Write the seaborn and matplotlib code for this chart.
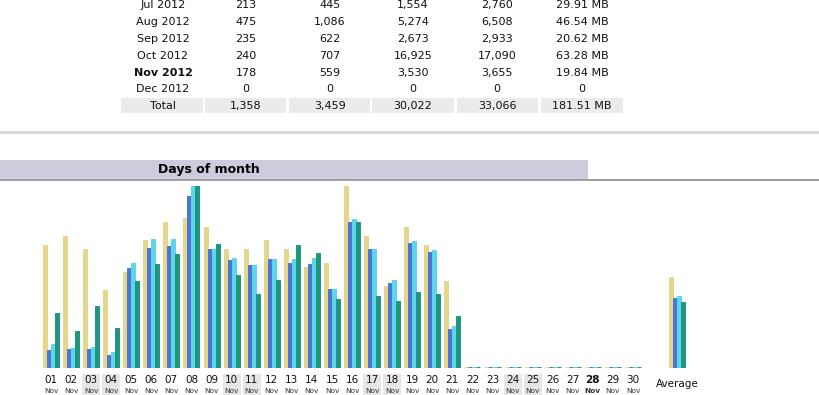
import datetime
import numpy as np
import pandas as pd
import matplotlib
matplotlib.use("Agg")
import matplotlib.pyplot as plt
from matplotlib.patches import Rectangle
from matplotlib.lines import Line2D
import seaborn as sns

# monthly history (table at the top of the page)
months = ["Jul 2012", "Aug 2012", "Sep 2012", "Oct 2012", "Nov 2012", "Dec 2012"]
unique_visitors = ["213", "475", "235", "240", "178", "0"]
month_visits = ["445", "1,086", "622", "707", "559", "0"]
month_pages = ["1,554", "5,274", "2,673", "16,925", "3,530", "0"]
month_hits = ["2,760", "6,508", "2,933", "17,090", "3,655", "0"]
month_bw = ["29.91 MB", "46.54 MB", "20.62 MB", "63.28 MB", "19.84 MB", "0"]
totals = ["Total", "1,358", "3,459", "30,022", "33,066", "181.51 MB"]

# days of month, November 2012 (today = 28th)
year, month = 2012, 11
today = 28
days = list(range(1, 31))
visits = [27, 29, 26, 17, 21, 28, 32, 33, 31, 26, 26, 28, 26, 22, 23, 40, 29, 18, 31, 27, 19] + [0] * 9
pages = [31, 33, 33, 22, 182, 219, 223, 315, 217, 197, 188, 199, 191, 189, 143, 267, 217, 154, 228, 212, 70] + [0] * 9
hits = [42, 35, 37, 27, 191, 236, 235, 333, 217, 201, 188, 199, 199, 201, 143, 273, 217, 160, 231, 215, 75] + [0] * 9
bandwidth_mb = [0.59, 0.39, 0.66, 0.42, 0.93, 1.11, 1.22, 1.96, 1.33, 1.00, 0.79, 0.94, 1.32, 1.23,
                0.74, 1.57, 0.77, 0.72, 0.81, 0.79, 0.55] + [0] * 9

series = ["Visits", "Pages", "Hits", "Bandwidth"]
colors = ["#E4D68A", "#4A76D6", "#5ED6EA", "#1F957F"]

# average over the days elapsed so far
avg = [sum(visits) / today, sum(pages) / today, sum(hits) / today, sum(bandwidth_mb) / today]
avg_pos = days[-1] + 2.2

# awstats scales visits and bandwidth on their own, pages and hits together
vmax = max(visits)
hmax = max(hits)
bmax = max(bandwidth_mb)

rows = []
for d, v, p, h, b in zip(days + [avg_pos], visits + [avg[0]], pages + [avg[1]],
                         hits + [avg[2]], bandwidth_mb + [avg[3]]):
    rows.append({"pos": d, "series": "Visits", "height": v / vmax})
    rows.append({"pos": d, "series": "Pages", "height": p / hmax})
    rows.append({"pos": d, "series": "Hits", "height": h / hmax})
    rows.append({"pos": d, "series": "Bandwidth", "height": b / bmax})
df = pd.DataFrame(rows)

W, H = 820, 395
fig = plt.figure(figsize=(W / 100, H / 100), dpi=100)
fig.patch.set_facecolor("white")


def fx(x):
    return x / W


def fy(y):
    return 1 - y / H


# ---- table
col_x = [163, 246, 330, 413, 497, 582]
row_y = [5, 22, 39, 56, 73, 89]
cells = [(121, 203), (205, 286), (289, 370), (372, 454), (457, 538), (541, 623)]
for x0, x1 in cells:
    fig.add_artist(Rectangle((fx(x0), fy(113)), fx(x1 - x0), 15 / H,
                             transform=fig.transFigure, color="#EBEBEB", lw=0))

cols = [months, unique_visitors, month_visits, month_pages, month_hits, month_bw]
for i, y in enumerate(row_y):
    for j, cx in enumerate(col_x):
        bold = (j == 0 and i == 4)
        fig.text(fx(cx), fy(y), cols[j][i], ha="center", va="center", fontsize=8,
                 color="#111111", fontweight="bold" if bold else "normal")
for j, cx in enumerate(col_x):
    fig.text(fx(cx), fy(106), totals[j], ha="center", va="center", fontsize=8, color="#111111")

# separator and section header
fig.add_artist(Line2D([0, 1], [fy(132), fy(132)], transform=fig.transFigure, color="#D4D4DC", lw=2))
fig.add_artist(Rectangle((0, fy(179)), fx(588), 19 / H, transform=fig.transFigure,
                         color="#CCCCDD", lw=0))
fig.add_artist(Line2D([0, 1], [fy(179.5), fy(179.5)], transform=fig.transFigure, color="#8C8C8C", lw=1.2))
fig.text(fx(209), fy(169), "Days of month", ha="center", va="center", fontsize=9,
         fontweight="bold", color="#000000")

# ---- bars
xlim = (-1.541, 39.32)
ax = fig.add_axes([0, 27 / H, 1, 182 / H])
sns.barplot(data=df, x="pos", y="height", hue="series", hue_order=series, palette=colors,
            native_scale=True, width=0.8, saturation=1, errorbar=None, legend=False,
            linewidth=0, ax=ax)
# thin edge so empty days still show a 1px line like the awstats images
for bar in ax.patches:
    bar.set_edgecolor(bar.get_facecolor())
    bar.set_linewidth(0.7)
ax.set_xlim(*xlim)
ax.set_ylim(-0.0055, 1)
ax.axis("off")

# ---- day labels
lab = fig.add_axes([0, 0, 1, 27 / H])
lab.set_xlim(*xlim)
lab.set_ylim(27, -1)
lab.axis("off")
for d in days:
    wd = datetime.date(year, month, d).weekday()
    if wd >= 5:
        lab.add_patch(Rectangle((d - 0.45, 5), 0.9, 23, color="#E6E6E6", lw=0))
    bold = "bold" if d == today else "normal"
    lab.text(d, 11.5, "%02d" % d, ha="center", va="center", fontsize=7.5,
             color="#111111", fontweight=bold)
    lab.text(d, 22.5, "Nov", ha="center", va="center", fontsize=5.3,
             color="#333333", fontweight=bold)
lab.text(avg_pos, 16, "Average", ha="center", va="center", fontsize=7.5, color="#111111")

fig.savefig("out.png", dpi=100)
